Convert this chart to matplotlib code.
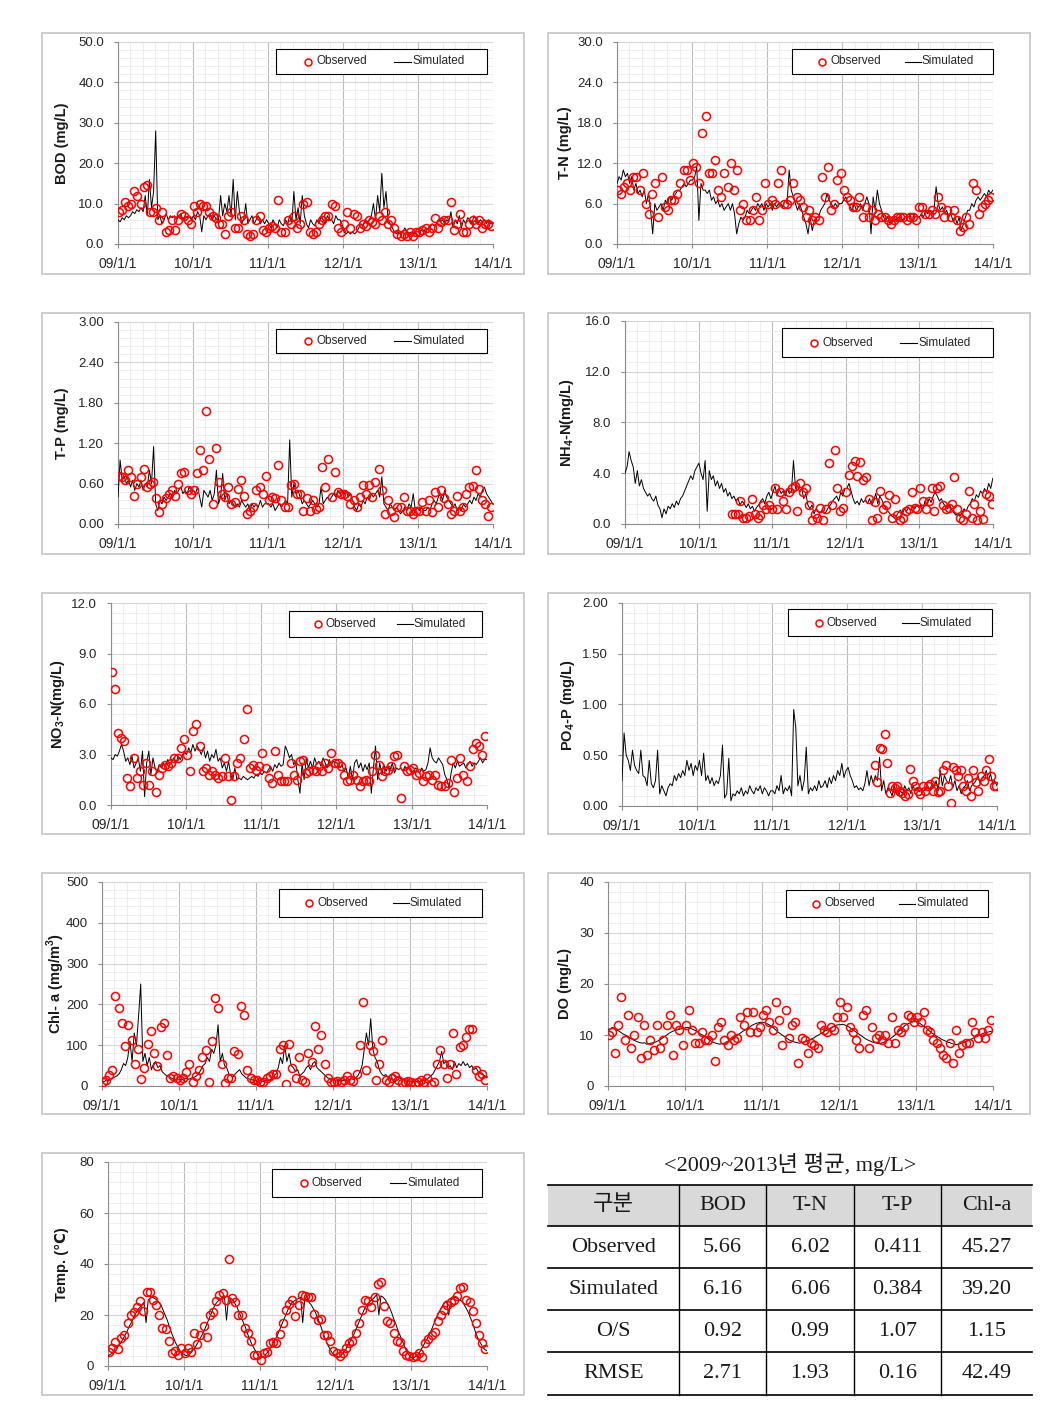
import numpy as np
import matplotlib.pyplot as plt
import matplotlib.dates as mdates
from matplotlib.patches import Rectangle
from matplotlib.ticker import FormatStrFormatter, MultipleLocator, AutoMinorLocator

plt.rcParams['font.family'] = ['Liberation Sans', 'DejaVu Sans']
plt.rcParams['mathtext.fontset'] = 'custom'
plt.rcParams['mathtext.rm'] = 'Liberation Sans'
plt.rcParams['mathtext.bf'] = 'Liberation Sans:bold'

W, H = 1054, 1426

year_labels = ['09/1/1', '10/1/1', '11/1/1', '12/1/1', '13/1/1', '14/1/1']
year_starts = ['2009-01-01', '2010-01-01', '2011-01-01', '2012-01-01', '2013-01-01', '2014-01-01']
sim_period = ('2009-01-01', '2013-12-31')
obs_period = ('2009-01-04', '2013-12-24')
nh4_obs_period = ('2010-06-15', '2013-12-25')
po4_obs_period = ('2012-05-15', '2013-12-28')

# simulated series, ~10-day steps, one row per year
bod_sim = [6, 5.5, 6.5, 6, 7, 6.5, 7, 8, 7.5, 8.5, 8, 9, 8, 12, 7, 16, 9, 13, 28, 6, 7, 5, 6, 7.5, 6, 7, 6.5, 7, 6, 7, 7.5, 6, 7, 6.5, 7, 6,
           7, 6, 8, 7, 3, 7, 6, 7, 7.5, 6, 7, 6, 6, 12, 7, 10, 8, 12, 7, 16, 6, 13, 8, 5, 6, 10, 5, 6, 7, 5, 6, 7, 5, 6, 5, 6,
           5, 4, 6, 5, 4, 6, 5, 4.5, 6, 5, 7, 5, 13, 6, 9, 5, 12, 7, 5, 4, 6, 5, 4.5, 6, 5, 7, 6, 5, 7, 6, 6, 5, 7, 6, 6, 5,
           3, 2.5, 3, 2.5, 3, 2.5, 3, 4, 5, 4.5, 6, 5.5, 6, 7, 10, 6, 12, 8, 17.5, 9, 13, 6, 5, 4, 3, 2.5, 3, 2.5, 3, 4, 3, 2.5, 3, 2.5, 3, 3,
           3, 3.5, 3, 4, 3.5, 4, 5, 4.5, 5, 6, 5.5, 6, 5, 6, 5.5, 8, 4, 6, 5, 7, 4, 6, 5, 6.5, 6, 5, 7, 6, 5, 6, 5.5, 6, 5, 6, 5, 5]
tn_sim = [9, 10, 9.5, 11, 10, 10.5, 9, 10, 8, 9, 7.5, 8, 7, 8, 6, 7.5, 5, 1.5, 6, 5, 5.5, 6, 5, 6.5, 6, 7, 6.5, 7, 7.5, 8, 8, 8.5, 9, 8.5, 9, 9.5,
          9.5, 10, 11.5, 3.5, 9, 8, 8, 7.5, 8, 6.5, 7, 6, 6.5, 5.5, 6, 5, 5.5, 6, 5, 6, 4.5, 1.5, 3, 4, 3.5, 4, 5, 4.5, 5, 5.5, 5, 6, 5.5, 6, 5, 6,
          5.5, 6, 5, 6, 5.5, 6, 6, 5.5, 6.5, 6, 11, 8, 7, 6, 5, 6, 5, 4, 3, 1.5, 4, 2, 3.5, 4, 4, 5, 5.5, 6, 7.5, 6.5, 6, 5.5, 6, 5.5, 6, 6,
          6.5, 7, 6, 5.5, 5, 6, 5, 5.5, 6, 5, 6, 7, 6, 1.5, 7, 5, 8, 6, 5, 4, 3.5, 4, 3, 3.5, 4, 3.5, 4, 4, 3.5, 4, 4, 4.5, 4, 4, 4.5, 4,
          4, 4.5, 4, 5, 4.5, 5, 4.5, 5, 8.5, 6, 5, 5.5, 4.5, 5, 4, 4.5, 3.5, 4, 3, 4, 2, 3, 4, 5, 5, 6, 5.5, 6.5, 7, 6.5, 7, 7.5, 7, 8, 7.5, 8]
tp_sim = [0.4, 0.95, 0.65, 0.7, 0.6, 0.65, 0.55, 0.65, 0.5, 0.6, 0.55, 0.65, 0.5, 0.6, 0.55, 0.8, 0.6, 1.15, 0.3, 0.2, 0.35, 0.3, 0.4, 0.35, 0.4, 0.45, 0.4, 0.5, 0.45, 0.5, 0.55, 0.45, 0.5, 0.45, 0.55, 0.5,
          0.5, 0.45, 0.55, 0.4, 0.25, 0.5, 0.45, 0.4, 0.5, 0.35, 0.45, 0.8, 0.3, 0.4, 0.75, 0.35, 0.45, 0.3, 0.35, 0.3, 0.25, 0.3, 0.25, 0.35, 0.3, 0.25, 0.3, 0.2, 0.3, 0.25, 0.3, 0.25, 0.35, 0.25, 0.3, 0.3,
          0.3, 0.25, 0.3, 0.2, 0.25, 0.3, 0.25, 0.3, 0.35, 0.3, 1.25, 0.4, 0.6, 0.45, 0.5, 0.4, 0.3, 0.35, 0.3, 0.25, 0.3, 0.35, 0.3, 0.25, 0.3, 0.55, 0.3, 0.35, 0.4, 0.35, 0.4, 0.45, 0.4, 0.5, 0.45, 0.5,
          0.45, 0.5, 0.4, 0.45, 0.35, 0.25, 0.2, 0.3, 0.25, 0.35, 0.3, 0.4, 0.35, 0.45, 0.4, 0.45, 0.5, 0.4, 0.7, 0.3, 0.25, 0.2, 0.3, 0.25, 0.2, 0.25, 0.2, 0.15, 0.2, 0.25, 0.2, 0.3, 0.25, 0.45, 0.2, 0.25,
          0.2, 0.25, 0.2, 0.2, 0.25, 0.2, 0.3, 0.35, 0.3, 0.4, 0.45, 0.35, 0.5, 0.4, 0.35, 0.3, 0.25, 0.3, 0.2, 0.25, 0.2, 0.3, 0.25, 0.3, 0.35, 0.3, 0.4, 0.35, 0.45, 0.4, 0.5, 0.55, 0.45, 0.4, 0.35, 0.3]
nh4_sim = [4, 4.5, 5.7, 5, 4.5, 3.2, 4.2, 3, 3.5, 2.8, 2.5, 2.2, 2.4, 2, 1.8, 2.2, 1.5, 1.2, 0.5, 1.2, 0.8, 1.4, 1.2, 1.6, 1.3, 1.8, 1.5, 2, 2.2, 2.6, 3, 3.4, 3.8, 3.5, 4.2, 4.5,
           4.8, 4, 3.5, 5, 1, 4.2, 3.5, 3.8, 3, 3.4, 2.8, 3.2, 2.5, 2.8, 2.2, 2.5, 2, 2.2, 1.8, 2, 1.5, 1.8, 1.6, 1.3, 1.6, 1.2, 1.4, 1, 1.3, 1.5, 1.8, 2, 1.6, 2.2, 2.5, 2,
           2.5, 3, 2.2, 2.8, 2.4, 2.6, 2.2, 2.8, 2.4, 2.6, 5, 2.8, 3, 2.5, 2.8, 2, 2.4, 1.5, 1.2, 1.5, 0.8, 1.2, 1, 0.9, 1.1, 0.8, 1, 1.3, 1.5, 1.8, 2, 2.2, 1.8, 2.5, 2.2, 2.8,
           2.8, 3.2, 2.6, 2, 1.6, 1.8, 1.5, 2, 1.7, 1.9, 1.6, 2, 1.5, 1.8, 2.4, 1.6, 2.2, 1.9, 1.5, 1.2, 1, 0.8, 0.6, 0.5, 0.6, 0.9, 1.1, 0.8, 1.2, 1, 1.3, 1.1, 1.4, 1.2, 1.5, 1.3,
           1.5, 1.2, 1.8, 1.5, 2, 1.7, 2.2, 2.5, 2.2, 1.8, 2, 1.6, 1.4, 1.2, 1.5, 1.1, 0.9, 0.7, 0.8, 0.6, 0.9, 1.2, 1, 1.4, 1.6, 2, 1.8, 2.3, 2.1, 2.6, 2.4, 2.8, 2.5, 3.2, 2.8, 3.6]
no3_sim = [2.8, 2.7, 3, 2.9, 3.2, 3.6, 3.2, 2.6, 2.8, 2.4, 2.9, 2.2, 2.5, 2.8, 2, 3.2, 0.5, 2.5, 3.2, 1.8, 2.8, 2.2, 2, 2.4, 2.2, 2.5, 2.3, 2.7, 2.4, 2.6, 2.8, 2.5, 2.9, 2.7, 3, 3.1,
           3, 3.4, 3.1, 3.6, 3.2, 3.5, 3.3, 3, 3.4, 2.8, 3.2, 2.6, 3, 2.8, 3.3, 2.6, 2.8, 2.2, 2.5, 2, 2.6, 1.8, 1.5, 2.2, 1.5, 1.6, 1.5, 1.7, 1.6, 1.5, 1.6, 1.7, 1.6, 1.8, 1.7, 1.9,
           1.8, 2, 1.9, 2.1, 2.3, 2, 2.4, 2.2, 2.5, 2.3, 2.4, 3.5, 3.2, 2.8, 3, 2.4, 2.6, 1.5, 0.7, 2.5, 1.5, 2.8, 2.2, 2.6, 2.2, 2.8, 2.4, 2.6, 2.3, 2.8, 2.5, 2.2, 2.7, 2.4, 2.6, 2.5,
           2.5, 2.2, 2.4, 2, 2.2, 1.6, 2.3, 1.5, 2.5, 2.7, 2.2, 2.5, 2, 2.4, 2.1, 2.5, 0.7, 2.2, 3.5, 1.5, 2.5, 1.8, 2.4, 2, 2.3, 2.1, 2.5, 1.9, 2.2, 2.1, 2.2, 2, 2.3, 2.1, 2.2, 2,
           2, 2.2, 2.1, 1.9, 2.2, 2, 2.1, 2.5, 3.4, 2.8, 2.6, 2.5, 2.8, 2.6, 2.4, 1.8, 1.5, 1, 1.9, 2.5, 2.2, 2.6, 2.3, 2.4, 2.5, 2.2, 2.4, 2.6, 2.3, 2.5, 2.4, 2.6, 2.8, 2.5, 2.7, 2.7]
po4_sim = [0.25, 0.72, 0.5, 0.45, 0.35, 0.55, 0.4, 0.35, 0.32, 0.55, 0.3, 0.28, 0.2, 0.45, 0.22, 0.18, 0.25, 0.55, 0.12, 0.2, 0.15, 0.1, 0.18, 0.22, 0.2, 0.3, 0.25, 0.32, 0.28, 0.35, 0.3, 0.45, 0.35, 0.42, 0.3, 0.4,
           0.35, 0.45, 0.3, 0.52, 0.25, 0.3, 0.22, 0.28, 0.2, 0.25, 0.22, 0.3, 0.6, 0.08, 0.12, 0.47, 0.05, 0.12, 0.1, 0.15, 0.12, 0.18, 0.1, 0.15, 0.12, 0.2, 0.15, 0.12, 0.18, 0.15, 0.2, 0.12, 0.18, 0.15, 0.1, 0.15,
           0.15, 0.12, 0.2, 0.15, 0.3, 0.12, 0.18, 0.15, 0.2, 0.1, 0.95, 0.77, 0.2, 0.3, 0.15, 0.25, 0.58, 0.12, 0.18, 0.15, 0.2, 0.15, 0.25, 0.18, 0.2, 0.25, 0.18, 0.28, 0.22, 0.3, 0.25, 0.35, 0.3, 0.42, 0.28, 0.35,
           0.38, 0.3, 0.25, 0.18, 0.2, 0.16, 0.18, 0.15, 0.22, 0.35, 0.2, 0.3, 0.22, 0.3, 0.25, 0.48, 0.15, 0.25, 0.12, 0.18, 0.15, 0.1, 0.2, 0.12, 0.1, 0.15, 0.12, 0.2, 0.15, 0.18, 0.12, 0.2, 0.15, 0.18, 0.14, 0.16,
           0.15, 0.18, 0.2, 0.15, 0.22, 0.18, 0.25, 0.15, 0.35, 0.2, 0.3, 0.25, 0.22, 0.3, 0.18, 0.25, 0.15, 0.2, 0.12, 0.18, 0.2, 0.25, 0.15, 0.2, 0.22, 0.25, 0.3, 0.22, 0.28, 0.3, 0.35, 0.25, 0.32, 0.22, 0.25, 0.2]
chl_sim = [12, 10, 15, 12, 18, 20, 22, 25, 30, 40, 55, 50, 70, 110, 60, 130, 100, 170, 250, 60, 80, 50, 70, 40, 55, 60, 45, 50, 35, 30, 25, 22, 20, 18, 16, 15,
           15, 18, 14, 20, 16, 18, 20, 22, 25, 30, 40, 50, 55, 70, 60, 90, 80, 100, 150, 60, 80, 50, 45, 30, 25, 22, 30, 35, 40, 30, 25, 20, 18, 16, 15, 14,
           12, 10, 14, 11, 13, 12, 15, 18, 25, 30, 45, 70, 55, 100, 60, 80, 50, 45, 35, 40, 25, 30, 35, 45, 50, 40, 55, 60, 45, 40, 35, 30, 25, 20, 18, 15,
           14, 12, 15, 11, 13, 14, 12, 15, 18, 16, 20, 25, 35, 50, 90, 130, 100, 165, 90, 70, 60, 40, 30, 25, 28, 22, 25, 30, 25, 20, 22, 18, 16, 15, 14, 12,
           12, 10, 11, 12, 10, 13, 14, 15, 20, 25, 30, 40, 50, 60, 85, 55, 60, 45, 50, 40, 60, 45, 55, 50, 60, 50, 55, 45, 50, 40, 45, 35, 30, 28, 25, 20]
do_sim = [11, 11.2, 11.5, 11.3, 11, 10.8, 10.5, 10.2, 10, 9.8, 9.5, 9.2, 9, 8.8, 8.6, 8.5, 8.4, 8.5, 8.2, 8.3, 8.4, 8.5, 8.6, 8.8, 9, 9.3, 9.6, 9.9, 10.2, 10.5, 10.7, 10.9, 11, 11.1, 11.2, 11.3,
          11.4, 11.5, 11.4, 11.2, 11, 10.8, 10.5, 10.2, 10, 9.7, 9.4, 9.1, 8.8, 8.6, 8.4, 8.3, 8.2, 8.3, 8.4, 8.5, 8.7, 9, 9.3, 9.6, 9.9, 10.2, 10.5, 10.8, 11, 11.3, 11.6, 11.9, 12.1, 12.3, 12.4, 12.5,
          12.5, 12.4, 12.2, 12, 11.7, 11.4, 11, 10.6, 10.3, 10, 9.7, 9.4, 9.1, 8.9, 8.7, 8.6, 8.5, 8.4, 8.5, 8.6, 8.7, 8.9, 9.1, 9.3, 9.5, 9.8, 10, 10.3, 10.5, 10.8, 11, 11.2, 11.5, 11.7, 11.9, 12,
          12, 12.1, 12, 11.8, 11.6, 11.3, 11, 10.7, 10.4, 10.1, 9.8, 9.5, 9.2, 9, 8.8, 8.6, 8.5, 8.4, 8.3, 8.4, 8.5, 8.7, 8.9, 9.2, 9.5, 9.8, 10.2, 10.6, 11, 11.4, 11.8, 12.1, 12.3, 12.5, 12.6, 12.6,
          12.5, 12.3, 12, 11.7, 11.4, 11, 10.6, 10.3, 10, 9.7, 9.5, 9.2, 9, 8.8, 8.6, 8.5, 8.3, 8.2, 8.1, 8.2, 8.3, 8.5, 8.6, 8.8, 9, 9.2, 9.4, 9.6, 9.8, 10, 10.2, 10.4, 10.5, 10.6, 10.7, 10.8]
temp_sim = [4, 4.5, 5, 5.5, 6.5, 8, 9, 10.5, 12, 13.5, 15.5, 17, 19, 20.5, 22, 23, 24, 25, 17, 26, 26.5, 27, 26.5, 26, 25, 24, 22, 20, 18, 15.5, 13, 11, 9, 7.5, 6, 5,
            4.5, 4, 4.5, 5, 6, 7, 8.5, 10, 11.5, 13, 15, 17, 19, 21, 23, 24.5, 25.5, 26, 27, 27.5, 18, 27, 26.5, 26, 24.5, 23, 21, 19, 17, 15, 12.5, 10.5, 8.5, 7, 5.5, 4,
            3, 3.5, 4, 5, 6, 7.5, 9, 10.5, 12, 14, 16, 18, 20, 22, 23.5, 25, 25.5, 26, 26.5, 27, 17, 26.5, 26, 25, 24, 22.5, 21, 19, 17, 14.5, 12, 10, 8, 6.5, 5, 4.5,
            4, 3.5, 4, 5, 6, 7.5, 9, 10.5, 12, 14, 16, 18, 20, 22, 23.5, 24.5, 25.5, 26, 27, 28, 20, 27.5, 27, 26, 24.5, 23, 21, 18.5, 16.5, 14, 12, 10, 8, 6, 4.5, 3.5,
            3, 3.5, 4, 5, 6.5, 8, 9.5, 11, 12.5, 14.5, 16.5, 18.5, 20.5, 22, 23.5, 25, 25.5, 20, 26, 26.5, 27, 26.5, 26, 25.5, 24.5, 23, 21.5, 19.5, 17.5, 15, 12.5, 10.5, 9, 7.5, 6.5, 6]

# observed series, ~2 samples per month, one row per year
bod_obs = [8, 8.5, 10.5, 9.5, 10, 13, 12, 10, 14, 14.5, 8, 8, 9, 6, 8, 3, 3.5, 6, 3.5, 6, 7.5, 7, 6, 5,
           9.5, 8, 10, 9.5, 9.5, 8, 7, 6.5, 5, 5, 2.5, 7, 8, 4, 4, 7, 6, 2.5, 2, 2.5, 6, 7, 3.5, 3,
           4, 4.5, 4, 11, 3, 3, 6, 5, 7, 4, 5, 10, 10.5, 3, 2.5, 3, 5, 6, 7, 7, 10, 9.5, 4, 3,
           5, 8, 4, 7.5, 7, 4, 5, 4.5, 6, 5.5, 5, 7, 6, 8, 5, 6, 4, 2.5, 2, 2.5, 2, 3, 2, 3,
           3, 3.5, 4, 3, 4, 6.5, 4, 5.5, 6, 6, 10.5, 3.5, 5, 7.5, 3, 3, 5, 6, 5, 6, 4, 5, 5, 4.5]
tn_obs = [8, 7.5, 8.5, 9, 8, 10, 10, 8, 10.5, 6, 4.5, 7.5, 9, 4, 10, 5.5, 5, 6.5, 6.5, 7.5, 9, 11, 11, 9.5,
          12, 11.5, 9, 16.5, 19, 10.5, 10.5, 12.5, 8, 7, 10.5, 8.5, 12, 8, 11, 5, 6, 3.5, 3.5, 5, 7, 3.5, 5, 9,
          6, 6.5, 6, 9, 11, 6, 6, 6.5, 9, 7, 6.5, 5.5, 4, 5, 3.5, 4, 3.5, 10, 7, 11.5, 5, 6, 9.5, 10.5,
          8, 7, 6.5, 5.5, 5.5, 7, 4, 5.5, 4, 5, 3.5, 4.5, 4, 4, 3.5, 3, 3.5, 4, 4, 4, 3.5, 4, 4, 3.5,
          5.5, 5.5, 4.5, 4.5, 5, 4.5, 7, 5.5, 4, 5, 4, 5, 3.5, 2, 2.5, 4, 3, 9, 8, 4.5, 5.5, 6, 6.5, 7]
tp_obs = [0.72, 0.7, 0.65, 0.8, 0.7, 0.42, 0.6, 0.7, 0.82, 0.55, 0.6, 0.62, 0.38, 0.18, 0.3, 0.38, 0.45, 0.5, 0.42, 0.6, 0.75, 0.77, 0.5, 0.45,
          0.5, 0.75, 1.1, 0.8, 1.68, 0.97, 0.3, 1.13, 0.62, 0.45, 0.4, 0.55, 0.3, 0.32, 0.52, 0.65, 0.42, 0.15, 0.2, 0.25, 0.5, 0.55, 0.45, 0.72,
          0.35, 0.4, 0.38, 0.88, 0.35, 0.25, 0.25, 0.58, 0.6, 0.45, 0.45, 0.2, 0.38, 0.2, 0.35, 0.22, 0.25, 0.85, 0.55, 0.97, 0.4, 0.77, 0.48, 0.45,
          0.45, 0.42, 0.3, 0.35, 0.25, 0.4, 0.58, 0.45, 0.58, 0.4, 0.62, 0.82, 0.5, 0.15, 0.35, 0.2, 0.1, 0.25, 0.25, 0.4, 0.2, 0.2, 0.15, 0.2,
          0.2, 0.32, 0.2, 0.35, 0.18, 0.48, 0.25, 0.5, 0.38, 0.3, 0.15, 0.2, 0.42, 0.2, 0.25, 0.45, 0.55, 0.57, 0.8, 0.52, 0.35, 0.3, 0.12, 0.25]
nh4_obs = [0.8, 0.8, 0.8, 1.8, 0.5, 0.5, 0.6, 2, 0.8, 0.5, 0.7, 1.5, 1.2, 1.5,
           1.2, 2.8, 1.2, 2.5, 1.8, 1.2, 2.5, 2.8, 3, 1, 3.2, 2.5, 2.8, 1.5, 0.3, 0.8, 0.5, 1.3, 0.3, 1.2, 4.8, 1.5, 5.8, 2.8, 1, 1.3, 2.5,
           3.9, 4.6, 5, 3.8, 4.9, 3.5, 3.7, 2, 0.3, 1.7, 0.5, 2.6, 1.2, 1.5, 2.3, 0.5, 2, 0.7, 0.3, 0.5, 1, 1.2, 2.5, 1.3, 1.2,
           2.8, 1.8, 1.2, 1.8, 2.8, 1, 2.8, 3, 1.5, 1.2, 1.3, 1.6, 3.7, 1.2, 0.5, 0.3, 0.8, 2.6, 0.5, 1.6, 0.3, 1, 0.4, 2.4, 2.2, 1.6]
no3_obs = [7.9, 6.9, 4.3, 4, 3.8, 1.6, 1.1, 2.8, 1.6, 2, 1.2, 2.5, 1.2, 2, 0.8, 1.8, 2.2, 2.4, 2.3, 2.5, 2.8, 2.8, 3.4, 3.9,
           3, 2, 4.4, 4.8, 3.5, 2, 2.2, 1.8, 2, 1.8, 1.6, 1.7, 2.8, 1.7, 0.3, 1.7, 2.5, 2.8, 3.9, 5.7, 2.2, 2.4, 2.1, 2.3,
           3.1, 2.2, 1.6, 1.3, 3.2, 1.8, 1.4, 1.4, 1.4, 2.5, 1.8, 1.5, 2.6, 2.7, 1.9, 2, 2.1, 2, 2.3, 2, 2.5, 2.2, 3.1, 2.5,
           2.5, 2.3, 1.8, 1.4, 1.5, 1.8, 1.5, 1.1, 1.4, 1.5, 1.4, 2, 3, 2.4, 1.7, 2, 2.1, 2.3, 2.9, 3, 0.4, 2.3, 2, 2.1,
           2.2, 1.8, 1.9, 1.4, 1.7, 1.8, 1.5, 1.8, 1.2, 1.1, 1.1, 1.3, 2.7, 0.8, 1.6, 2.8, 1.8, 1.4, 2.3, 3.3, 3.7, 3.5, 3, 4.1]
po4_obs = [0.4, 0.24, 0.57, 0.56, 0.71, 0.42, 0.13, 0.2, 0.18, 0.2, 0.15, 0.13, 0.1, 0.12, 0.36, 0.25, 0.2, 0.15, 0.12, 0.2,
           0.15, 0.2, 0.22, 0.15, 0.25, 0.14, 0.15, 0.35, 0.4, 0.2, 0.03, 0.38, 0.35, 0.3, 0.35, 0.2, 0.15, 0.28, 0.1, 0.35,
           0.24, 0.15, 0.3, 0.25, 0.35, 0.46, 0.3, 0.2, 0.2]
chl_obs = [10, 15, 28, 38, 220, 190, 155, 98, 150, 113, 55, 90, 18, 45, 103, 135, 80, 50, 145, 155, 75, 20, 25, 20,
           15, 20, 35, 55, 10, 25, 40, 70, 88, 10, 110, 215, 190, 55, 8, 20, 20, 85, 78, 195, 175, 40, 20, 15,
           15, 10, 10, 20, 25, 30, 30, 90, 100, 5, 103, 45, 20, 70, 15, 10, 80, 60, 148, 90, 125, 55, 20, 10,
           10, 12, 10, 15, 25, 15, 12, 30, 100, 205, 40, 100, 85, 15, 55, 112, 15, 10, 20, 25, 15, 8, 10, 12,
           10, 8, 10, 15, 10, 20, 5, 10, 55, 88, 55, 20, 55, 130, 30, 95, 100, 120, 140, 140, 40, 25, 30, 15]
do_obs = [10, 10.5, 6.5, 12, 17.5, 9, 14, 7.5, 10, 13.5, 5.5, 12, 6, 9, 7, 12, 7.5, 9, 12, 14, 6, 12, 11, 8,
          12, 15, 11, 8.5, 8.5, 10.5, 9, 9, 10, 5, 11.5, 12.5, 9, 8, 10, 9, 9.5, 13.5, 12, 14.5, 10.5, 14.5, 10.5, 11.5,
          14, 15, 12.5, 11, 16.5, 13, 8, 15, 9.5, 12, 12.5, 4.5, 9.5, 9, 6.5, 8.5, 8, 7.5, 12, 11, 10.5, 11.5, 11, 13.5,
          16.5, 13.5, 15.5, 11.5, 10.5, 9, 7.5, 14, 15, 7.5, 11.5, 9.5, 10, 9, 10, 8.5, 13.5, 8.5, 11, 10.5, 11.5, 14, 13.5, 12.5,
          13.5, 12.5, 14.5, 11, 10.5, 9, 8.5, 7.5, 6, 5.5, 8.5, 4.5, 11, 6.5, 8, 8.5, 8.5, 12.5, 10.5, 9.5, 10.5, 9.5, 11, 13]
temp_obs = [5.5, 7, 9.5, 6.5, 11, 12, 17, 20, 21, 23, 25.5, 21.5, 29, 29, 26, 24, 20, 15, 14.5, 10, 5, 6, 4.5, 7,
            5, 7, 5.5, 13, 8.5, 12, 15.5, 11.5, 20, 21, 25.5, 28, 28.5, 26, 42, 26.5, 25, 20, 20, 15, 13, 10, 4.5, 4.5,
            2.5, 5, 5.5, 9, 9.5, 9, 12.5, 17, 22, 24.5, 26, 19.5, 24, 28, 27.5, 27, 27, 20.5, 18, 18.5, 12, 12, 10, 6,
            5, 4, 5, 7, 9, 10, 13, 17, 22, 26, 25.5, 23, 27, 32, 33, 23.5, 17.5, 17, 13, 10, 9.5, 6, 4.5, 4,
            3.5, 4, 5, 3.5, 9, 10.5, 12, 13.5, 17.5, 20, 22, 24, 25, 26, 27.5, 30.5, 31, 26, 25, 21.5, 17, 12, 9, 6.5]

# summary table
table_title = '<2009~2013년 평균, mg/L>'
table_cols = ['구분', 'BOD', 'T-N', 'T-P', 'Chl-a']
table_rows = [['Observed', '5.66', '6.02', '0.411', '45.27'],
              ['Simulated', '6.16', '6.06', '0.384', '39.20'],
              ['O/S', '0.92', '0.99', '1.07', '1.15'],
              ['RMSE', '2.71', '1.93', '0.16', '42.49']]


def spread(period, n):
    t0, t1 = mdates.datestr2num(period[0]), mdates.datestr2num(period[1])
    return np.linspace(t0, t1, n)


def px_rect(x0, y0, x1, y1):
    return [x0 / W, 1 - y1 / H, (x1 - x0) / W, (y1 - y0) / H]


# (sim, obs, obs period, ylabel, ymax, step, fmt, plot area px, legend px, ylabel x px, frame px)
panels = [
    (bod_sim, bod_obs, obs_period, 'BOD (mg/L)', 50, 10, '%.1f', (118, 42, 493, 244), (276, 49, 487, 74), 62, (42, 33, 524, 274)),
    (tn_sim, tn_obs, obs_period, 'T-N (mg/L)', 30, 6, '%.1f', (617, 42, 993, 244), (792, 49, 993, 74), 565, (548, 33, 1030, 274)),
    (tp_sim, tp_obs, obs_period, 'T-P (mg/L)', 3, 0.6, '%.2f', (118, 322, 493, 524), (276, 329, 487, 353), 62, (42, 313, 524, 554)),
    (nh4_sim, nh4_obs, nh4_obs_period, 'NH$_\\mathbf{4}$-N(mg/L)', 16, 4, '%.1f', (625, 321, 993, 524), (782, 328, 993, 357), 567, (548, 313, 1030, 554)),
    (no3_sim, no3_obs, obs_period, 'NO$_\\mathbf{3}$-N(mg/L)', 12, 3, '%.1f', (111, 603, 487, 805), (289, 611, 482, 637), 58, (42, 593, 524, 834)),
    (po4_sim, po4_obs, po4_obs_period, 'PO$_\\mathbf{4}$-P (mg/L)', 2, 0.5, '%.2f', (622, 603, 997, 806), (788, 609, 992, 636), 568, (548, 593, 1030, 834)),
    (chl_sim, chl_obs, obs_period, 'Chl- a (mg/m$^\\mathbf{3}$)', 500, 100, '%d', (102, 882, 487, 1086), (279, 889, 482, 917), 56, (42, 873, 524, 1114)),
    (do_sim, do_obs, obs_period, 'DO (mg/L)', 40, 10, '%d', (608, 882, 993, 1086), (786, 890, 988, 917), 565, (548, 873, 1030, 1114)),
    (temp_sim, temp_obs, obs_period, 'Temp. (℃)', 80, 20, '%d', (108, 1162, 487, 1366), (272, 1169, 482, 1197), 62, (42, 1153, 524, 1395)),
]

fig = plt.figure(figsize=(W / 100, H / 100), dpi=100)
ov = fig.add_axes([0, 0, 1, 1], zorder=10)
ov.set_xlim(0, W)
ov.set_ylim(H, 0)
ov.axis('off')
ov.patch.set_alpha(0)

tick_pos = [mdates.datestr2num(d) for d in year_starts]

for sim, obs, period, ylabel, ymax, step, fmt, area, leg, lab_x, frame in panels:
    ov.add_patch(Rectangle((frame[0], frame[1]), frame[2] - frame[0], frame[3] - frame[1],
                           fill=False, edgecolor='#c4c4c4', lw=1.2))
    ax = fig.add_axes(px_rect(*area))
    ax.plot(spread(sim_period, len(sim)), sim, color='black', lw=0.7, zorder=3)
    ax.plot(spread(period, len(obs)), obs, ls='none', marker='o', ms=5.8, mfc='none',
            mec='#ff0000', mew=1.1, zorder=4)
    ax.set_xlim(tick_pos[0], tick_pos[-1])
    ax.set_ylim(0, ymax)
    ax.set_xticks(tick_pos)
    ax.set_xticklabels(year_labels)
    ax.xaxis.set_minor_locator(mdates.MonthLocator(bymonth=[3, 5, 7, 9, 11]))
    ax.yaxis.set_major_locator(MultipleLocator(step))
    ax.yaxis.set_minor_locator(AutoMinorLocator(5))
    ax.yaxis.set_major_formatter(FormatStrFormatter(fmt))
    ax.grid(axis='x', which='major', color='#bcbcbc', lw=0.8)
    ax.grid(axis='y', which='major', color='#d6d6d6', lw=0.8)
    ax.grid(which='minor', color='#ececec', lw=0.6)
    ax.set_axisbelow(True)
    for s in ('top', 'right'):
        ax.spines[s].set_visible(False)
    for s in ('left', 'bottom'):
        ax.spines[s].set_color('#8c8c8c')
        ax.spines[s].set_linewidth(0.8)
    ax.tick_params(which='major', length=3, color='#8c8c8c', labelcolor='#262626')
    ax.tick_params(axis='x', pad=6.5, labelsize=10)
    ax.tick_params(axis='y', pad=7, labelsize=9.5)
    ax.tick_params(which='minor', length=0)
    ax.set_ylabel(ylabel, fontsize=10.5, fontweight='bold', color='#1a1a1a')
    ax.yaxis.set_label_coords((lab_x - area[0]) / (area[2] - area[0]), 0.5)
    ax.yaxis.label.set_va('center')

    # legend box
    lx0, ly0, lx1, ly1 = leg
    lw_ = lx1 - lx0
    ym = (ly0 + ly1) / 2
    ov.add_patch(Rectangle((lx0, ly0), lw_, ly1 - ly0, facecolor='white', edgecolor='black', lw=0.8))
    ov.plot([lx0 + 0.15 * lw_], [ym], ls='none', marker='o', ms=5, mfc='none', mec='#ff0000', mew=1.1)
    ov.text(lx0 + 0.19 * lw_, ym, 'Observed', fontsize=8.5, va='center', ha='left', color='#262626')
    ov.plot([lx0 + 0.56 * lw_, lx0 + 0.64 * lw_], [ym, ym], color='black', lw=0.8)
    ov.text(lx0 + 0.645 * lw_, ym, 'Simulated', fontsize=8.5, va='center', ha='left', color='#262626')

# summary table
tfont = ['Liberation Serif', 'Noto Sans CJK KR']
col_edges = [548, 679, 766, 854, 941, 1032]
row_edges = [1185, 1226, 1268, 1310, 1352, 1395]
ov.text(790, 1164, table_title, fontsize=16, ha='center', va='center', family=tfont, color='#1a1a1a')
ov.add_patch(Rectangle((col_edges[0], row_edges[0]), col_edges[-1] - col_edges[0], row_edges[1] - row_edges[0],
                       facecolor='#d9d9d9', edgecolor='none'))
for y in row_edges:
    ov.plot([col_edges[0], col_edges[-1]], [y, y], color='black', lw=1.2)
for x in col_edges[1:-1]:
    ov.plot([x, x], [row_edges[0], row_edges[-1]], color='black', lw=1.0)
for j, name in enumerate(table_cols):
    cx = (col_edges[j] + col_edges[j + 1]) / 2
    cy = (row_edges[0] + row_edges[1]) / 2
    ov.text(cx, cy, name, fontsize=16, ha='center', va='center', family=tfont, color='#1a1a1a')
for i, row in enumerate(table_rows):
    cy = (row_edges[i + 1] + row_edges[i + 2]) / 2
    for j, val in enumerate(row):
        cx = (col_edges[j] + col_edges[j + 1]) / 2
        ov.text(cx, cy, val, fontsize=16, ha='center', va='center', family=tfont, color='#1a1a1a')

fig.savefig('out.png', dpi=100)
